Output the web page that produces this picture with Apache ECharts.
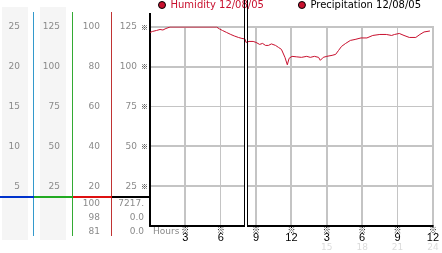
<!DOCTYPE html>
<html><head><meta charset="utf-8">
<script src="https://cdn.jsdelivr.net/npm/echarts@6/dist/echarts.min.js"></script>
<style>html,body{margin:0;padding:0;background:#fff;overflow:hidden}#c{width:442px;height:253px}</style>
</head><body><div id="c"></div>
<script>
// ---- data ----
const hours = [0,0.2,0.55,0.85,1.1,1.35,1.7,5.65,5.9,6.15,6.5,6.85,7.15,7.5,7.8,8.05,8.15,8.4,8.75,9.0,9.3,9.55,9.8,10.05,10.3,10.65,10.9,11.15,11.3,11.45,11.65,11.8,12.05,12.45,12.85,13.3,13.6,13.95,14.3,14.45,14.7,15.0,15.45,15.75,16.0,16.25,16.6,17.0,17.4,17.9,18.4,18.9,19.5,20.05,20.5,20.75,21.15,21.55,22.0,22.55,22.9,23.25,23.75];
const humidity = [97.25,97.75,98.25,98.75,98.5,99.25,100,100,99,98.25,97.25,96.25,95.5,94.75,94.25,94,92.25,92.75,92.75,92.25,91.25,91.75,90.75,90.75,91.5,90.75,89.75,88.75,87.75,84.75,81,84.25,85.25,85,84.75,85.25,84.75,85.25,84.75,83.25,84.75,85.25,85.75,86.25,88.25,90.25,91.75,93.25,93.75,94.5,94.5,95.75,96.25,96.25,95.75,96.25,96.75,95.75,94.75,94.75,96.25,97.5,98];
const precipitation = [];
const nowHour = 8.15;
const hourTicks = [0,3,6,9,12,15,18,21,24];
const hourLabels12 = ['','3','6','9','12','3','6','9','12'];
const hourLabels24 = ['','','','','','15','18','21','24'];
const mainTicks = [0,25,50,75,100,125];
const col1Ticks = [0,5,10,15,20,25];
const col2Ticks = [0,25,50,75,100,125];
const col3Ticks = [0,20,40,60,80,100];
const humidityStats = ['100','98','81'];
const precipStats = ['7217.','0.0','0.0'];
const seriesNames = ['Humidity 12/08/05','Precipitation 12/08/05'];

const RED = '#c8102e';
const LABEL = '#8a8a8a';
const GRIDC = '#c4c4c4';
const FONT = 'DejaVu Sans';

function ticksAxis(t){return {min:t[0],max:t[t.length-1],interval:t[1]-t[0]};}
function sideAxis(t, offset){
  return Object.assign({type:'value',position:'left',offset:offset,
    axisLine:{show:false},axisTick:{show:false},splitLine:{show:false},
    axisLabel:{margin:8,color:LABEL,fontSize:9,fontFamily:FONT,showMinLabel:false}},ticksAxis(t));
}

const chart = echarts.init(document.getElementById('c'),null,{renderer:'canvas'});
const option = {
  animation:false,
  textStyle:{fontFamily:FONT},
  legend:{left:158,top:0,padding:0,itemWidth:7,itemHeight:7,itemGap:34,icon:'circle',
    itemStyle:{borderColor:'#000',borderWidth:1},
    textStyle:{fontSize:10,fontFamily:FONT},
    data:[{name:seriesNames[0],textStyle:{color:RED}},{name:seriesNames[1],textStyle:{color:'#000'}}]},
  grid:{left:150,right:3,top:27,bottom:27},
  xAxis:Object.assign({type:'value',
    axisLine:{show:true,lineStyle:{color:'#000',width:2}},axisTick:{show:false},
    splitLine:{show:true,lineStyle:{color:GRIDC,width:1}},
    axisLabel:{margin:1,formatter:function(v){
      const i = hourTicks.indexOf(v); if(i<=0) return '';
      let s = '{m|※}\n{n|'+hourLabels12[i]+'}';
      if(hourLabels24[i]) s += '\n{f|'+hourLabels24[i]+'}';
      return s;},
      rich:{m:{fontSize:8,lineHeight:6,color:'#000',fontFamily:'Noto Sans CJK SC'},
            n:{fontSize:11,lineHeight:10,color:'#000',fontFamily:'Liberation Sans'},
            f:{fontSize:9,lineHeight:10,color:'#dcdcdc',fontFamily:FONT}}}},ticksAxis(hourTicks)),
  yAxis:[
    Object.assign({type:'value',position:'left',
      axisLine:{show:true,lineStyle:{color:'#000',width:2}},axisTick:{show:false},
      splitLine:{show:true,lineStyle:{color:GRIDC,width:1}},
      axisLabel:{margin:2,showMinLabel:false,formatter:function(v){return '{v|'+v+'}{m|※}';},
        rich:{v:{color:LABEL,fontSize:9,fontFamily:FONT},m:{fontSize:7,color:'#000',padding:[0,0,0,4],fontFamily:'Noto Sans CJK SC'}}}},ticksAxis(mainTicks)),
    sideAxis(col3Ticks,42),
    sideAxis(col2Ticks,82),
    sideAxis(col1Ticks,122)
  ],
  series:[
    {type:'line',name:seriesNames[1],yAxisIndex:0,data:precipitation,showSymbol:false,z:1,
     lineStyle:{color:RED,width:1},itemStyle:{color:RED}},
    {type:'line',name:seriesNames[0],yAxisIndex:1,data:hours.map((h,i)=>[h,humidity[i]]),
     showSymbol:false,lineStyle:{color:RED,width:1},itemStyle:{color:RED},z:3}
  ]
};
chart.setOption(option);

const X = v => chart.convertToPixel({xAxisIndex:0}, v);
const Y = v => chart.convertToPixel({yAxisIndex:0}, v);
const px = Math.round(X(nowHour));
const yTop = Math.round(Y(mainTicks[mainTicks.length-1]));
const yBot = Math.round(Y(0));
const gx = Math.round(X(hourTicks[0]));
const gxr = Math.round(X(hourTicks[hourTicks.length-1]));

function txt(id,x,y,t,color){return {type:'text',id:id,z:5,style:{x:x,y:y,text:t,fill:color,font:'9px '+FONT,align:'right',verticalAlign:'middle',textAlign:'right',textVerticalAlign:'middle'}};}
const els = [
  {type:'rect',id:'bg1',shape:{x:2,y:7,width:26,height:233},style:{fill:'#f5f5f5'}},
  {type:'rect',id:'bg2',shape:{x:40,y:7,width:26,height:233},style:{fill:'#f5f5f5'}},
  {type:'rect',id:'vb',shape:{x:33,y:12,width:1,height:224},style:{fill:'#3399cc'}},
  {type:'rect',id:'vg',shape:{x:72,y:12,width:1,height:224},style:{fill:'#33aa33'}},
  {type:'rect',id:'vr',shape:{x:111,y:12,width:1,height:224},style:{fill:'#c03333'}},
  {type:'rect',id:'hb',shape:{x:0,y:196,width:34,height:2},style:{fill:'#0033cc'}},
  {type:'rect',id:'hg',shape:{x:34,y:196,width:39,height:2},style:{fill:'#22aa22'}},
  {type:'rect',id:'hr',shape:{x:73,y:196,width:39,height:2},style:{fill:'#dd1111'}},
  {type:'rect',id:'hk',shape:{x:112,y:196,width:38,height:2},style:{fill:'#000'}},
  {type:'rect',id:'axext',shape:{x:gx-1,y:13,width:2,height:yTop-13},style:{fill:'#000'}},
  {type:'text',id:'hours',z:5,style:{x:153,y:227,text:'Hours',fill:LABEL,font:'9px '+FONT}},
  {type:'rect',id:'nowW',z:2,shape:{x:px-1,y:0,width:2,height:yBot+1},style:{fill:'#fff'}},
  {type:'rect',id:'nowB',z:4,shape:{x:px-2,y:0,width:1,height:yBot+1},style:{fill:'#000'}},
  {type:'rect',id:'nowB2',z:4,shape:{x:px+1,y:0,width:1,height:yBot+1},style:{fill:'#000'}}
];
// grid lines positioned through the axes' scales
hourTicks.slice(1).forEach((v,i)=>{
  const x = Math.round(X(v)) - 1;
  els.push({type:'rect',id:'gv'+i,z:1,silent:true,shape:{x:x,y:yTop,width:1,height:yBot-yTop-1},style:{fill:GRIDC}});
});
mainTicks.slice(1).forEach((v,i)=>{
  const y = Math.round(Y(v)) - 1;
  els.push({type:'rect',id:'gh'+i,z:1,silent:true,shape:{x:gx+1,y:y,width:gxr-gx,height:1},style:{fill:GRIDC}});
});
humidityStats.forEach((s,i)=>els.push(txt('hs'+i,100,204+i*14,s,LABEL)));
precipStats.forEach((s,i)=>els.push(txt('ps'+i,144,204+i*14,s,LABEL)));
chart.setOption({graphic:els});
</script></body></html>
